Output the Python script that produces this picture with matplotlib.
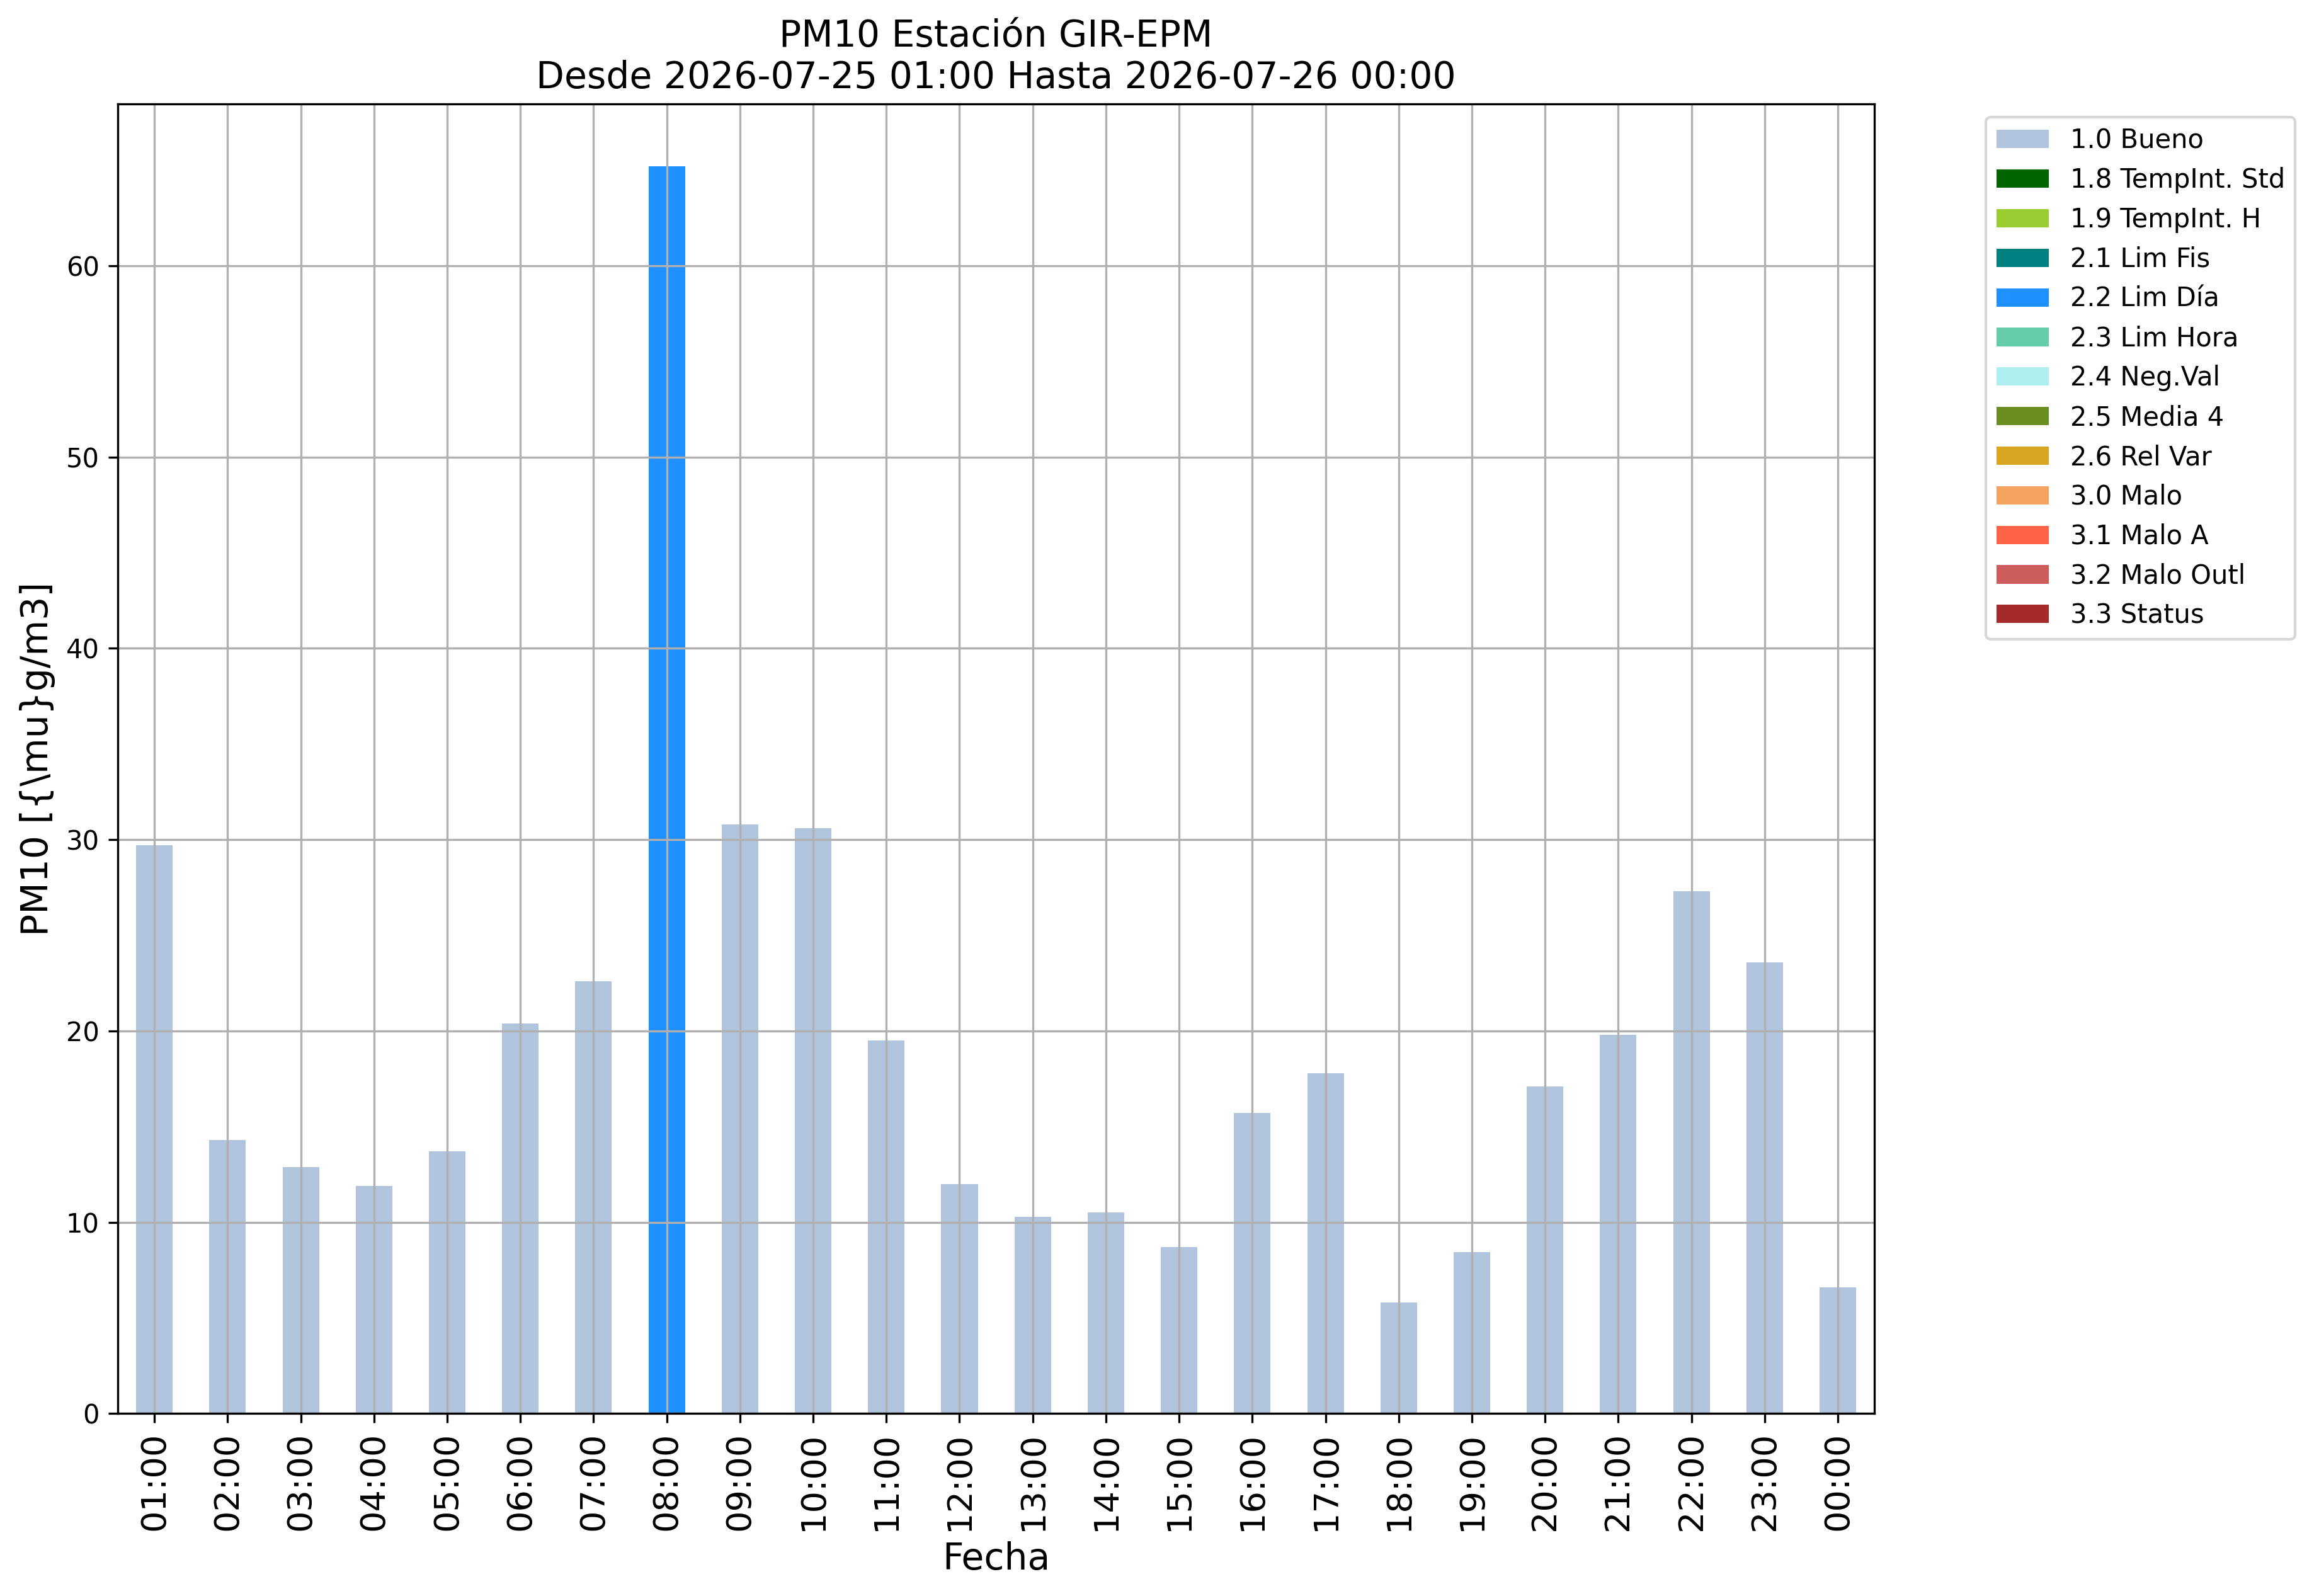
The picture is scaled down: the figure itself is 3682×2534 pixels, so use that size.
import numpy as np
import pandas as pd
import matplotlib
matplotlib.use('Agg')
import matplotlib.pyplot as plt

# Horas y valores de PM10
horas = ['01:00', '02:00', '03:00', '04:00', '05:00', '06:00', '07:00', '08:00',
         '09:00', '10:00', '11:00', '12:00', '13:00', '14:00', '15:00', '16:00',
         '17:00', '18:00', '19:00', '20:00', '21:00', '22:00', '23:00', '00:00']
pm10 = [29.7, 14.3, 12.9, 11.9, 13.7, 20.4, 22.6, 65.2,
        30.8, 30.6, 19.5, 12.0, 10.3, 10.5, 8.7, 15.7,
        17.8, 5.8, 8.45, 17.1, 19.8, 27.3, 23.6, 6.6]
# Bandera de calidad de cada dato
flags = ['1.0 Bueno'] * 7 + ['2.2 Lim Día'] + ['1.0 Bueno'] * 16

categorias = ['1.0 Bueno', '1.8 TempInt. Std', '1.9 TempInt. H', '2.1 Lim Fis',
              '2.2 Lim Día', '2.3 Lim Hora', '2.4 Neg.Val', '2.5 Media 4',
              '2.6 Rel Var', '3.0 Malo', '3.1 Malo A', '3.2 Malo Outl', '3.3 Status']
colores = ['lightsteelblue', 'darkgreen', 'yellowgreen', 'teal', 'dodgerblue',
           'mediumaquamarine', 'paleturquoise', 'olivedrab', 'goldenrod',
           'sandybrown', 'tomato', 'indianred', 'brown']

# Una columna por categoria, NaN donde no aplica
df = pd.DataFrame(index=horas)
for c in categorias:
    df[c] = [v if f == c else np.nan for v, f in zip(pm10, flags)]

fig = plt.figure(figsize=(3682 / 300, 2534 / 300), dpi=300)
ax = fig.add_axes([0.0508, 0.1143, 0.7575, 0.8206])
df.plot(kind='bar', stacked=True, color=colores, ax=ax, legend=False)
ax.grid(True)
ax.set_title('PM10 Estación GIR-EPM\nDesde 2026-07-25 01:00 Hasta 2026-07-26 00:00', fontsize=14)
ax.set_ylabel('PM10 [{\\mu}g/m3]', fontsize=14)
ax.set_xlabel('Fecha', fontsize=14)
ax.tick_params(axis='x', labelsize=13, rotation=90)
ax.tick_params(axis='y', labelsize=10)
ax.legend(bbox_to_anchor=(1.056, 1), loc='upper left', fontsize=10)

fig.savefig('out.png', dpi=300)
